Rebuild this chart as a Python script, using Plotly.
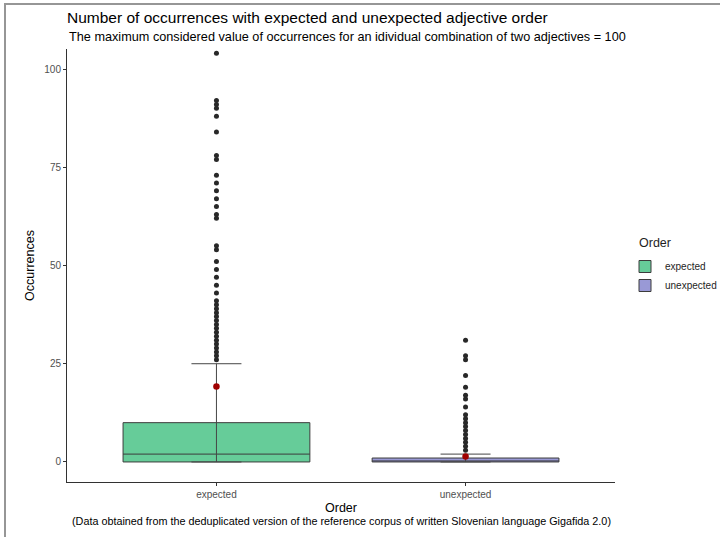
import plotly.graph_objects as go

# ---- data ----
categories = ["expected", "unexpected"]
q1 = [0, 0]
median = [2, 0]
q3 = [10, 1]
lower_whisker = [0, 0]
upper_whisker = [25, 2]
means = [19.2, 1.4]
outliers_expected = [104, 92, 91, 90, 88, 84, 78, 77, 73, 71, 69, 67, 65, 63, 62,
                     55, 54, 51, 49, 47, 45, 43, 41, 40, 39, 38, 37, 36, 35, 34,
                     33, 32, 31, 30, 29, 28, 27, 26]
outliers_unexpected = [31, 27, 26, 22, 19, 17, 16, 14, 12, 11, 10, 9, 8, 7, 6, 5, 4, 3]
fill_colors = ["rgb(102,204,153)", "rgb(153,153,214)"]
y_ticks = [0, 25, 50, 75, 100]

FONT = "Liberation Sans, Arial, sans-serif"
fig = go.Figure()

# boxes
for i, cat in enumerate(categories):
    fig.add_trace(go.Box(
        x=[cat], q1=[q1[i]], median=[median[i]], q3=[q3[i]],
        lowerfence=[q1[i]], upperfence=[q3[i]],
        name=cat, fillcolor=fill_colors[i],
        line=dict(color="rgb(60,60,60)", width=1),
        width=0.75, boxpoints=False, whiskerwidth=0,
        showlegend=True, legendgroup=cat,
    ))

# whiskers drawn as error bars (through the box, as in ggplot stat_boxplot errorbar)
mid = [(lo + hi) / 2 for lo, hi in zip(lower_whisker, upper_whisker)]
half = [(hi - lo) / 2 for lo, hi in zip(lower_whisker, upper_whisker)]
fig.add_trace(go.Scatter(
    x=categories, y=mid, mode="markers",
    marker=dict(size=0.1, color="rgba(0,0,0,0)"),
    error_y=dict(type="data", array=half, symmetric=True,
                 color="rgb(70,70,70)", thickness=1, width=25),
    showlegend=False, hoverinfo="skip",
))

# outliers
fig.add_trace(go.Scatter(
    x=[categories[0]] * len(outliers_expected), y=outliers_expected,
    mode="markers", marker=dict(size=5, color="rgb(40,40,40)"),
    showlegend=False,
))
fig.add_trace(go.Scatter(
    x=[categories[1]] * len(outliers_unexpected), y=outliers_unexpected,
    mode="markers", marker=dict(size=5, color="rgb(40,40,40)"),
    showlegend=False,
))

# means
fig.add_trace(go.Scatter(
    x=categories, y=means, mode="markers",
    marker=dict(size=6.5, color="rgb(160,0,0)"),
    showlegend=False,
))

fig.update_layout(
    width=720, height=537,
    margin=dict(l=67, r=105, t=49, b=55, autoexpand=False),
    paper_bgcolor="white", plot_bgcolor="white",
    font=dict(family=FONT, color="black"),
    title=dict(text="Number of occurrences with expected and unexpected adjective order",
               x=67 / 720, xanchor="left", y=1 - 18 / 537, yanchor="middle",
               font=dict(size=15.5, family=FONT, color="black")),
    legend=dict(xref="container", yref="container",
                x=625 / 720, xanchor="left", y=1 - 252 / 537, yanchor="top",
                font=dict(size=10, color="rgb(30,30,30)"),
                tracegroupgap=0, itemwidth=30),
    showlegend=True,
)

fig.update_xaxes(
    type="category", range=[-0.6, 1.6], automargin=False,
    showline=True, linecolor="rgb(50,50,50)", linewidth=1,
    ticks="outside", ticklen=3, tickcolor="rgb(50,50,50)",
    tickfont=dict(size=10, color="rgb(80,80,80)"),
    showgrid=False, zeroline=False,
    title=dict(text="Order", font=dict(size=12.5, color="black"), standoff=4),
)
fig.update_yaxes(
    range=[-5.1, 105.1], tickvals=y_ticks, automargin=False,
    showline=True, linecolor="rgb(50,50,50)", linewidth=1,
    ticks="outside", ticklen=3, tickcolor="rgb(50,50,50)",
    tickfont=dict(size=10, color="rgb(80,80,80)"),
    showgrid=False, zeroline=False,
    title=dict(text="Occurrences", font=dict(size=12.5, color="black"), standoff=6),
)

fig.add_annotation(
    text="Order", xref="paper", yref="paper",
    x=(637 - 67) / 548, xanchor="left", y=(482 - 243) / 433, yanchor="middle",
    showarrow=False, font=dict(size=12.5, color="rgb(30,30,30)"),
)
fig.add_annotation(
    text="The maximum considered value of occurrences for an idividual combination of two adjectives = 100",
    xref="paper", yref="paper", x=0, xanchor="left", y=(482 - 37) / 433, yanchor="middle",
    showarrow=False, font=dict(size=12.7, color="black"),
)
fig.add_annotation(
    text="(Data obtained from the deduplicated version of the reference corpus of written Slovenian language Gigafida 2.0)",
    xref="paper", yref="paper", x=0.5, xanchor="center", y=(482 - 521) / 433, yanchor="middle",
    showarrow=False, font=dict(size=10.8, color="black"),
)

# screenshot frame (top and left edges)
fig.add_shape(type="line", xref="paper", yref="paper",
              x0=(4 - 67) / 548, x1=(720 - 67) / 548, y0=(482 - 4) / 433, y1=(482 - 4) / 433,
              line=dict(color="rgb(150,150,150)", width=2))
fig.add_shape(type="line", xref="paper", yref="paper",
              x0=(5 - 67) / 548, x1=(5 - 67) / 548, y0=(482 - 4) / 433, y1=(482 - 537) / 433,
              line=dict(color="rgb(150,150,150)", width=2))

fig.write_html("out.html", config={"displayModeBar": False},
               post_script="document.body.style.margin='0px';")
